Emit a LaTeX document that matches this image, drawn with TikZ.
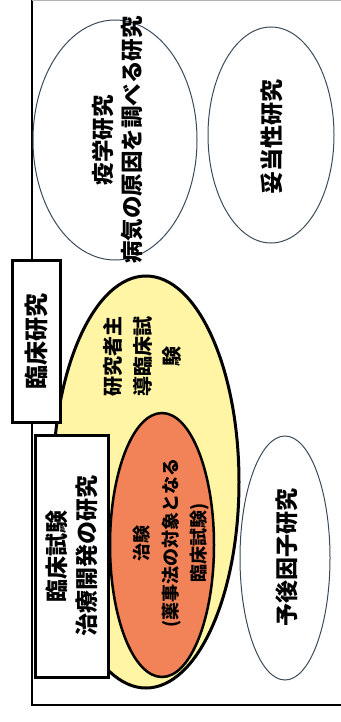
\documentclass[tikz,border=0pt]{standalone}
\usepackage{fontspec}
\setmainfont{Noto Sans CJK JP}
\usetikzlibrary{shapes.geometric}
\definecolor{ylw}{RGB}{255,245,165}
\definecolor{org}{RGB}{242,130,88}
\definecolor{thin}{RGB}{60,75,90}
\begin{document}
\begin{tikzpicture}[x=1pt,y=-1pt,
  thinell/.style={draw=thin, line width=1pt, ellipse, inner sep=0pt},
  thickell/.style={draw=black, line width=3pt, ellipse, inner sep=0pt},
  boxnode/.style={draw=black, line width=3pt, fill=white, rectangle, rotate=90, inner sep=0pt, align=center, font=\bfseries\fontsize{23}{30}\selectfont},
  txt/.style={rotate=90, align=center, inner sep=0pt, font=\bfseries\fontsize{22.5}{29}\selectfont}]
\useasboundingbox (0,0) rectangle (340,722);
\fill[white] (0,0) rectangle (340,722);
% frame
\coordinate (ftl) at (32,-5);
\coordinate (fbl) at (32,705);
\coordinate (fbr) at (345,705);
\draw[line width=1.5pt] (ftl) -- (fbl) -- (fbr);
\coordinate (ttl) at (32,1);
\coordinate (ttr) at (345,1);
\draw[gray!60, line width=1pt] (ttl) -- (ttr);
% thin ellipses
\node[thinell, minimum width=164pt, minimum height=240pt] (ek) at (115,140) {};
\node[thinell, minimum width=126pt, minimum height=216pt] (dt) at (271,135) {};
\node[thinell, minimum width=90pt, minimum height=244pt] (yg) at (285,558) {};
% yellow and orange
\node[thickell, fill=ylw, minimum width=186pt, minimum height=412pt] (yl) at (146,482) {};
\node[thickell, line width=2.5pt, fill=org, minimum width=104pt, minimum height=264pt] (og) at (162,545) {};
% boxes
\node[boxnode, minimum width=162pt, minimum height=48pt, font=\bfseries\fontsize{24}{30}\selectfont] (b1) at (36,341) {臨床研究};
\node[boxnode, minimum width=242pt, minimum height=73pt] (b2) at (71.5,556) {臨床試験\\治療開発の研究};
% texts
\node[txt] (ekt) at (117.5,140) {疫学研究\\病気の原因を調べる研究};
\node[txt, font=\bfseries\fontsize{23}{29}\selectfont] (dtt) at (272,137) {妥当性研究};
\node[txt, font=\bfseries\fontsize{20}{29.5}\selectfont] (ylt) at (142.5,356) {研究者主\\導臨床試\\験};
\node[txt, font=\bfseries\fontsize{18}{28.5}\selectfont] (ogt) at (171.5,543) {治験\\(薬事法の対象となる\\臨床試験)};
\node[txt, font=\bfseries\fontsize{23}{29}\selectfont] (ygt) at (287,557) {予後因子研究};
\end{tikzpicture}
\end{document}
